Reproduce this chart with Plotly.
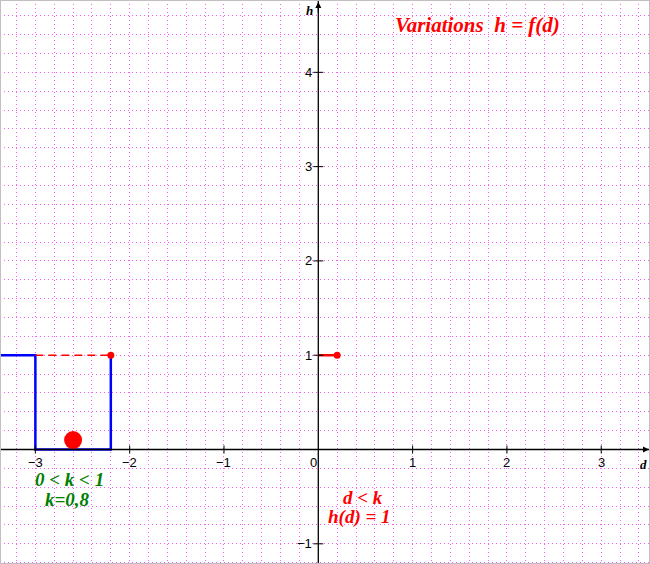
import plotly.graph_objects as go

# ---- data ----
box_x = [-4.0, -3.0, -3.0, -2.2, -2.2]
box_y = [1, 1, 0, 0, 1]
dash_x = [-3.0, -2.2]
dash_y = [1, 1]
end_pt_x = [-2.2]
end_pt_y = [1]
seg_x = [0.0, 0.2]
seg_y = [1, 1]
seg_pt_x = [0.2]
seg_pt_y = [1]
ball_x = [-2.6]
ball_y = [0.1]
x_ticks = [-3, -2, -1, 1, 2, 3]
y_ticks = [-1, 1, 2, 3, 4]
x_tick_labels = ["\u22123", "\u22122", "\u22121", "1", "2", "3"]
y_tick_labels = ["\u22121", "1", "2", "3", "4"]

W, H = 650, 564
X0, X1 = -3.375, 3.517
Y0, Y1 = -1.214, 4.767
ppu_x = W / (X1 - X0)
ppu_y = H / (Y1 - Y0)

grid = "#ff5cff"
fig = go.Figure()

fig.add_trace(go.Scatter(x=box_x, y=box_y, mode="lines",
                         line=dict(color="#0000ff", width=2.5), hoverinfo="skip"))
fig.add_trace(go.Scatter(x=dash_x, y=dash_y, mode="lines",
                         line=dict(color="#ff0000", width=1.5, dash="8px,5px"), hoverinfo="skip"))
fig.add_trace(go.Scatter(x=end_pt_x, y=end_pt_y, mode="markers",
                         marker=dict(color="#ff0000", size=7), hoverinfo="skip"))
fig.add_trace(go.Scatter(x=seg_x, y=seg_y, mode="lines",
                         line=dict(color="#ff0000", width=2.5), hoverinfo="skip"))
fig.add_trace(go.Scatter(x=seg_pt_x, y=seg_pt_y, mode="markers",
                         marker=dict(color="#ff0000", size=7), hoverinfo="skip"))
fig.add_trace(go.Scatter(x=ball_x, y=ball_y, mode="markers",
                         marker=dict(color="#ff0000", size=18), hoverinfo="skip"))

shapes = []
# axes
shapes.append(dict(type="line", xref="x", yref="y", x0=X0, x1=X1, y0=0, y1=0,
                   line=dict(color="black", width=1.3)))
shapes.append(dict(type="line", xref="x", yref="y", x0=0, x1=0, y0=Y0, y1=Y1,
                   line=dict(color="black", width=1.3)))
tx = 4 / ppu_y
for t in x_ticks:
    shapes.append(dict(type="line", xref="x", yref="y", x0=t, x1=t, y0=-tx, y1=tx,
                       line=dict(color="black", width=1)))
ty = 5 / ppu_x
for t in y_ticks:
    shapes.append(dict(type="line", xref="x", yref="y", x0=-ty, x1=ty, y0=t, y1=t,
                       line=dict(color="black", width=1)))
# border
shapes.append(dict(type="rect", xref="paper", yref="paper", x0=0, x1=1, y0=0, y1=1,
                   line=dict(color="#c0c0c0", width=2)))

ann = []
tickfont = dict(family="Liberation Sans, Arial", size=13, color="black")
for t, lab in zip(x_ticks, x_tick_labels):
    ann.append(dict(x=t, y=0, xref="x", yref="y", text=lab, showarrow=False,
                    yshift=-13, font=tickfont))
ann.append(dict(x=0, y=0, xref="x", yref="y", text="0", showarrow=False,
                xshift=-5, yshift=-13, font=tickfont))
for t, lab in zip(y_ticks, y_tick_labels):
    ann.append(dict(x=0, y=t, xref="x", yref="y", text=lab, showarrow=False,
                    xanchor="right", xshift=-4, font=tickfont))

serif = "Liberation Serif, Times New Roman, serif"
ann.append(dict(x=1.683, y=4.50, xref="x", yref="y",
                text="<b><i>Variations  h = f(d)</i></b>", showarrow=False,
                font=dict(family=serif, size=21, color="#ff0000")))
ann.append(dict(x=-2.633, y=-0.313, xref="x", yref="y",
                text="<b><i>0 &lt; k &lt; 1</i></b>", showarrow=False,
                font=dict(family=serif, size=19, color="#008000")))
ann.append(dict(x=-2.66, y=-0.525, xref="x", yref="y",
                text="<b><i>k=0,8</i></b>", showarrow=False,
                font=dict(family=serif, size=19, color="#008000")))
ann.append(dict(x=0.479, y=-0.504, xref="x", yref="y",
                text="<b><i>d &lt; k</i></b>", showarrow=False,
                font=dict(family=serif, size=19, color="#ff0000")))
ann.append(dict(x=0.44, y=-0.716, xref="x", yref="y",
                text="<b><i>h(d) = 1</i></b>", showarrow=False,
                font=dict(family=serif, size=19, color="#ff0000")))
# axis names
ann.append(dict(x=0, y=Y1, xref="x", yref="y", text="<b><i>h</i></b>", showarrow=False,
                xanchor="right", yanchor="top", xshift=-3, yshift=-1,
                font=dict(family=serif, size=13, color="black")))
ann.append(dict(x=X1, y=0, xref="x", yref="y", text="<b><i>d</i></b>", showarrow=False,
                xanchor="right", yanchor="top", xshift=-1, yshift=-5,
                font=dict(family=serif, size=13, color="black")))
# arrows
ann.append(dict(x=X1 - 1 / ppu_x, y=0, ax=X1 - 12 / ppu_x, ay=0, xref="x", yref="y",
                axref="x", ayref="y", text="", showarrow=True, arrowhead=2,
                arrowsize=1, arrowwidth=1.2, arrowcolor="black"))
ann.append(dict(x=0, y=Y1 - 2 / ppu_y, ax=0, ay=Y1 - 14 / ppu_y, xref="x", yref="y",
                axref="x", ayref="y", text="", showarrow=True, arrowhead=2,
                arrowsize=1, arrowwidth=1.2, arrowcolor="black"))

axis_common = dict(showline=False, zeroline=False, showticklabels=False, ticks="",
                   showgrid=True, gridcolor=grid, gridwidth=1, griddash="1px,3px",
                   minor=dict(dtick=0.2, showgrid=True, gridcolor=grid, gridwidth=1,
                              griddash="1px,3px", ticks=""))
fig.update_layout(
    width=W, height=H, margin=dict(l=0, r=0, t=0, b=0),
    paper_bgcolor="white", plot_bgcolor="white", showlegend=False,
    xaxis=dict(range=[X0, X1], dtick=1, tick0=0, **axis_common),
    yaxis=dict(range=[Y0, Y1], dtick=1, tick0=0, **axis_common),
    shapes=shapes, annotations=ann, hovermode=False,
)
fig.write_html("out.html", config={"displayModeBar": False},
               post_script="document.body.style.margin='0';document.body.style.padding='0';")
